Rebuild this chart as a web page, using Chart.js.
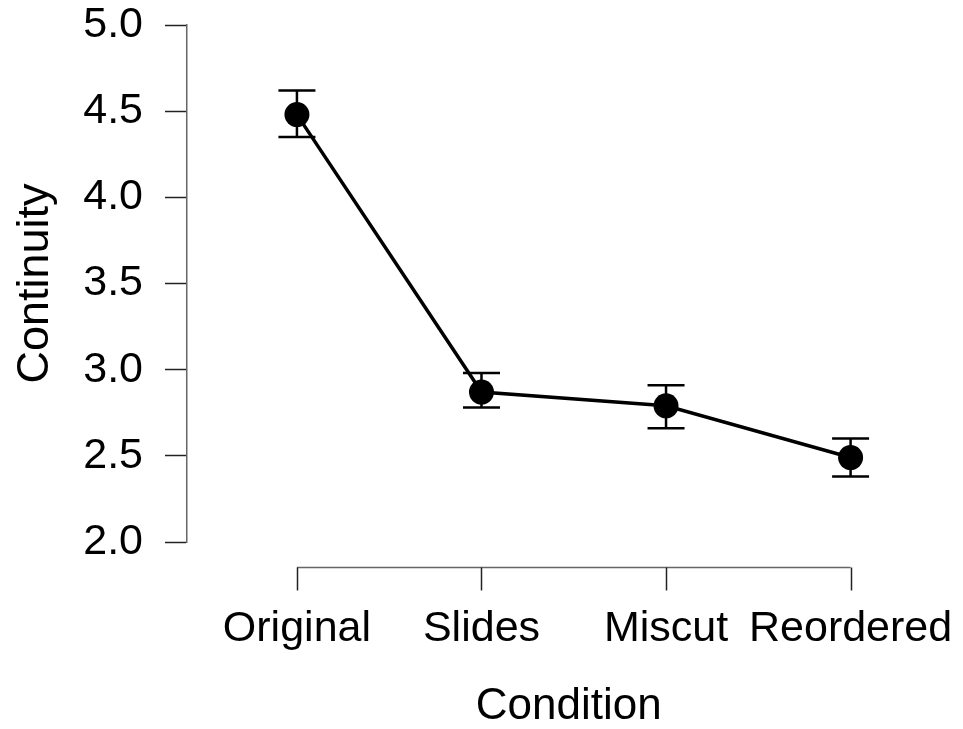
<!DOCTYPE html>
<html>
<head>
<meta charset="utf-8">
<script src="https://cdn.jsdelivr.net/npm/chart.js@4"></script>
<style>
  html, body { margin: 0; padding: 0; background: #ffffff; }
  #wrap { width: 963px; height: 729px; position: relative; }
  canvas { display: block; }
</style>
</head>
<body>
<div id="wrap"><canvas id="c" width="963" height="729"></canvas></div>
<script>
// ---- data ----
const categories = ['Original', 'Slides', 'Miscut', 'Reordered'];
const means = [4.48, 2.87, 2.79, 2.49];
const lower = [4.35, 2.78, 2.66, 2.38];
const upper = [4.62, 2.98, 2.91, 2.60];
const yTickValues = [2.0, 2.5, 3.0, 3.5, 4.0, 4.5, 5.0];
const xTitle = 'Condition';
const yTitle = 'Continuity';

const FONT = '"Liberation Sans", Arial, Helvetica, sans-serif';

const points = categories.map((c, i) => ({ x: i + 1, y: means[i] }));

// error bars drawn through the chart's scales
const errorBars = {
  id: 'errorBars',
  beforeDatasetsDraw(chart) {
    const xs = chart.scales.x, ys = chart.scales.y, ctx = chart.ctx;
    ctx.save();
    ctx.strokeStyle = '#000';
    ctx.lineWidth = 2.5;
    const cap = 18.5;
    categories.forEach((c, i) => {
      const px = xs.getPixelForValue(i + 1);
      const yl = ys.getPixelForValue(lower[i]);
      const yu = ys.getPixelForValue(upper[i]);
      ctx.beginPath();
      ctx.moveTo(px, yl); ctx.lineTo(px, yu);
      ctx.moveTo(px - cap, yl); ctx.lineTo(px + cap, yl);
      ctx.moveTo(px - cap, yu); ctx.lineTo(px + cap, yu);
      ctx.stroke();
    });
    ctx.restore();
  }
};

// detached R-style x axis line with ticks at categories
const xAxisLine = {
  id: 'xAxisLine',
  afterDraw(chart) {
    const xs = chart.scales.x, ctx = chart.ctx;
    const y0 = Math.round(chart.chartArea.bottom + 25) + 0.5;
    const y1 = y0 + 23;
    const a = xs.getPixelForValue(1), b = xs.getPixelForValue(categories.length);
    ctx.save();
    ctx.strokeStyle = '#666';
    ctx.lineWidth = 1.5;
    ctx.beginPath(); ctx.moveTo(a, y0); ctx.lineTo(b, y0); ctx.stroke();
    ctx.strokeStyle = '#222';
    categories.forEach((c, i) => {
      const px = Math.round(xs.getPixelForValue(i + 1)) + 0.5;
      ctx.beginPath(); ctx.moveTo(px, y0); ctx.lineTo(px, y1); ctx.stroke();
    });
    ctx.restore();
  }
};

function zeroPad(s) { s.paddingTop = 0; s.paddingBottom = 0; s.paddingLeft = 0; s.paddingRight = 0; }

new Chart(document.getElementById('c'), {
  type: 'line',
  data: {
    datasets: [{
      data: points,
      borderColor: '#000',
      borderWidth: 3.5,
      backgroundColor: '#000',
      pointBackgroundColor: '#000',
      pointBorderColor: '#000',
      pointRadius: 12.5,
      pointBorderWidth: 0,
      tension: 0,
      clip: false
    }]
  },
  options: {
    responsive: false,
    animation: false,
    devicePixelRatio: 1,
    layout: { padding: { left: 0, top: 25, right: 0, bottom: 0 } },
    plugins: { legend: { display: false }, tooltip: { enabled: false } },
    scales: {
      x: {
        type: 'linear',
        min: 0.4043,
        max: 4.5414,
        afterBuildTicks: (s) => { s.ticks = categories.map((c, i) => ({ value: i + 1 })); },
        afterFit: (s) => { s.height = 187; zeroPad(s); },
        grid: { display: false },
        border: { display: false },
        ticks: {
          autoSkip: false, maxRotation: 0, minRotation: 0,
          padding: 58,
          color: '#000',
          font: { family: FONT, size: 43, lineHeight: 1 },
          callback: (v) => categories[v - 1] ?? ''
        },
        title: {
          display: true, text: xTitle, color: '#000',
          font: { family: FONT, size: 44, lineHeight: 1 },
          padding: { top: 0, bottom: 0 }
        }
      },
      y: {
        type: 'linear',
        min: 2, max: 5,
        afterBuildTicks: (s) => { s.ticks = yTickValues.map(v => ({ value: v })); },
        afterFit: (s) => { s.width = 187; zeroPad(s); },
        grid: { drawOnChartArea: false, drawTicks: true, tickLength: 22, tickColor: '#222', tickWidth: 1.5 },
        border: { display: true, color: '#666', width: 1.5 },
        ticks: {
          padding: 22,
          color: '#000',
          font: { family: FONT, size: 43, lineHeight: 1 },
          callback: (v) => Number(v).toFixed(1)
        },
        title: {
          display: true, text: yTitle, color: '#000',
          font: { family: FONT, size: 45, lineHeight: 1 },
          padding: { top: 13.5, bottom: 0 }
        }
      }
    }
  },
  plugins: [errorBars, xAxisLine]
});
</script>
</body>
</html>
